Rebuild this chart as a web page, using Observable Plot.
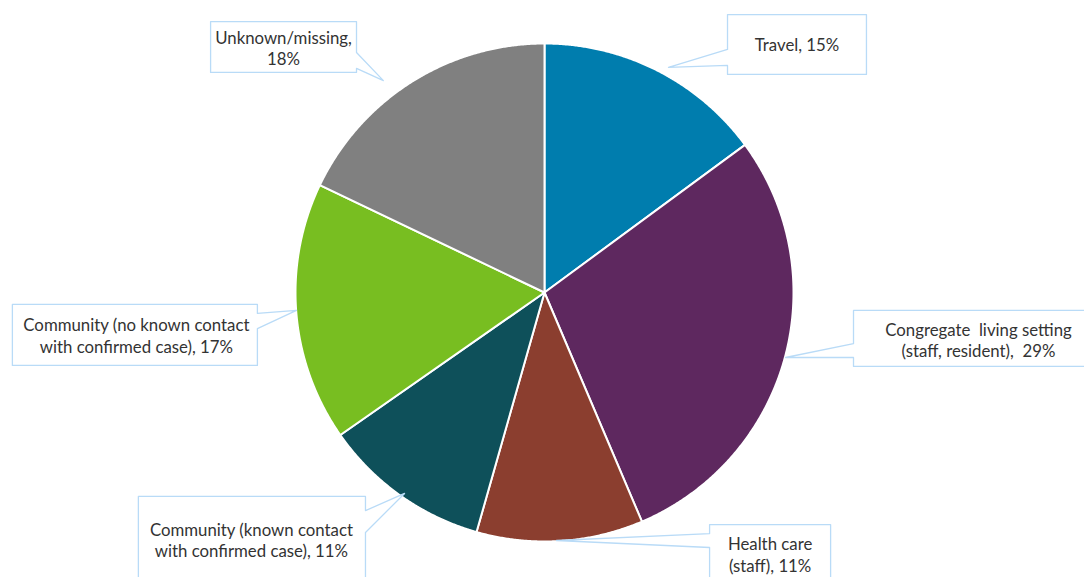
<!DOCTYPE html>
<html><head><meta charset="utf-8">
<script src="https://cdn.jsdelivr.net/npm/d3@7"></script>
<script src="https://cdn.jsdelivr.net/npm/@observablehq/plot@0.6"></script>
<style>body{margin:0;background:#fff;overflow:hidden}</style>
</head><body><div id="chart"></div>
<script>
// ---- data ----
const categories = ["Travel", "Congregate living setting", "Health care", "Community (known contact)", "Community (no known contact)", "Unknown/missing"];
const values = [14.9, 28.7, 10.8, 10.9, 16.8, 17.9];
const labelTexts = [
  "Travel, 15%",
  "Congregate\u00a0 living setting\n(staff, resident),\u00a0 29%",
  "Health care\n(staff), 11%",
  "Community (known contact\nwith confirmed case), 11%",
  "Community (no known contact\nwith confirmed case), 17%",
  "Unknown/missing,\n18%"
];
const colors = ["#007dae", "#5e285f", "#8b3e2f", "#0e505a", "#78be21", "#808080"];

// ---- callout layout (in pie-radius units, pie centred at 0,0) ----
const calloutLayout = [
  {side: "left",  x1: 0.735, x2: 1.293, top: 1.116, bot: 0.876, b1: 0.976, b2: 0.912, tx: 0.498, ty: 0.904, lx: 1.014, ly: 0.996},
  {side: "left",  x1: 1.241, x2: 2.245, top: -0.072, bot: -0.297, b1: -0.205, b2: -0.261, tx: 0.968, ty: -0.261, lx: 1.743, ly: -0.189},
  {side: "left",  x1: 0.663, x2: 1.149, top: -0.932, bot: -1.197, b1: -0.968, b2: -1.024, tx: 0.048, ty: -0.996, lx: 0.906, ly: -1.050},
  {side: "right", x1: -1.631, x2: -0.719, top: -0.819, bot: -1.197, b1: -0.876, b2: -0.964, tx: -0.562, ty: -0.807, lx: -1.177, ly: -0.992},
  {side: "right", x1: -2.137, x2: -1.153, top: -0.048, bot: -0.293, b1: -0.084, b2: -0.145, tx: -0.996, ty: -0.072, lx: -1.639, ly: -0.171},
  {side: "right", x1: -1.341, x2: -0.755, top: 1.088, bot: 0.884, b1: 0.964, b2: 0.900, tx: -0.647, ty: 0.851, lx: -1.048, ly: 0.984}
];

// ---- build slices ----
const arcs = d3.pie().sort(null).value(d => d)(values);
const slicePts = [];
arcs.forEach((a, i) => {
  slicePts.push({cat: categories[i], x: 0, y: 0});
  const n = Math.max(2, Math.ceil((a.endAngle - a.startAngle) / 0.005));
  for (let k = 0; k <= n; k++) {
    const t = a.startAngle + (a.endAngle - a.startAngle) * k / n;
    slicePts.push({cat: categories[i], x: Math.sin(t), y: Math.cos(t)});
  }
  slicePts.push({cat: categories[i], x: 0, y: 0});
});

// ---- build callout shapes ----
const calloutPts = [];
calloutLayout.forEach((c, i) => {
  let pts;
  if (c.side === "left") {
    pts = [[c.x1, c.top], [c.x2, c.top], [c.x2, c.bot], [c.x1, c.bot], [c.x1, c.b2], [c.tx, c.ty], [c.x1, c.b1], [c.x1, c.top]];
  } else {
    pts = [[c.x1, c.top], [c.x2, c.top], [c.x2, c.b1], [c.tx, c.ty], [c.x2, c.b2], [c.x2, c.bot], [c.x1, c.bot], [c.x1, c.top]];
  }
  pts.forEach(([x, y]) => calloutPts.push({id: i, x, y}));
});
const labels = calloutLayout.map((c, i) => ({x: c.lx, y: c.ly, text: labelTexts[i]}));

const W = 1084, H = 577, R = 249, cx = 544, cy = 292;
const chart = Plot.plot({
  width: W, height: H,
  margin: 0,
  x: {domain: [-cx / R, (W - cx) / R], range: [0, W], axis: null},
  y: {domain: [-(H - cy) / R, cy / R], range: [H, 0], axis: null},
  color: {domain: categories, range: colors},
  style: {fontFamily: "Lato, 'Open Sans', sans-serif", background: "#fff"},
  marks: [
    Plot.line(slicePts, {x: "x", y: "y", z: "cat", fill: "cat", stroke: "white", strokeWidth: 2, strokeLinejoin: "round", curve: "linear"}),
    Plot.line(calloutPts, {x: "x", y: "y", z: "id", fill: "white", stroke: "#b9dbf7", strokeWidth: 1.3, curve: "linear"}),
    Plot.text(labels, {x: "x", y: "y", text: "text", fontSize: 16.8, lineHeight: 1.3, fill: "#333333", textAnchor: "middle"})
  ]
});
document.getElementById("chart").appendChild(chart);
</script>
</body></html>
